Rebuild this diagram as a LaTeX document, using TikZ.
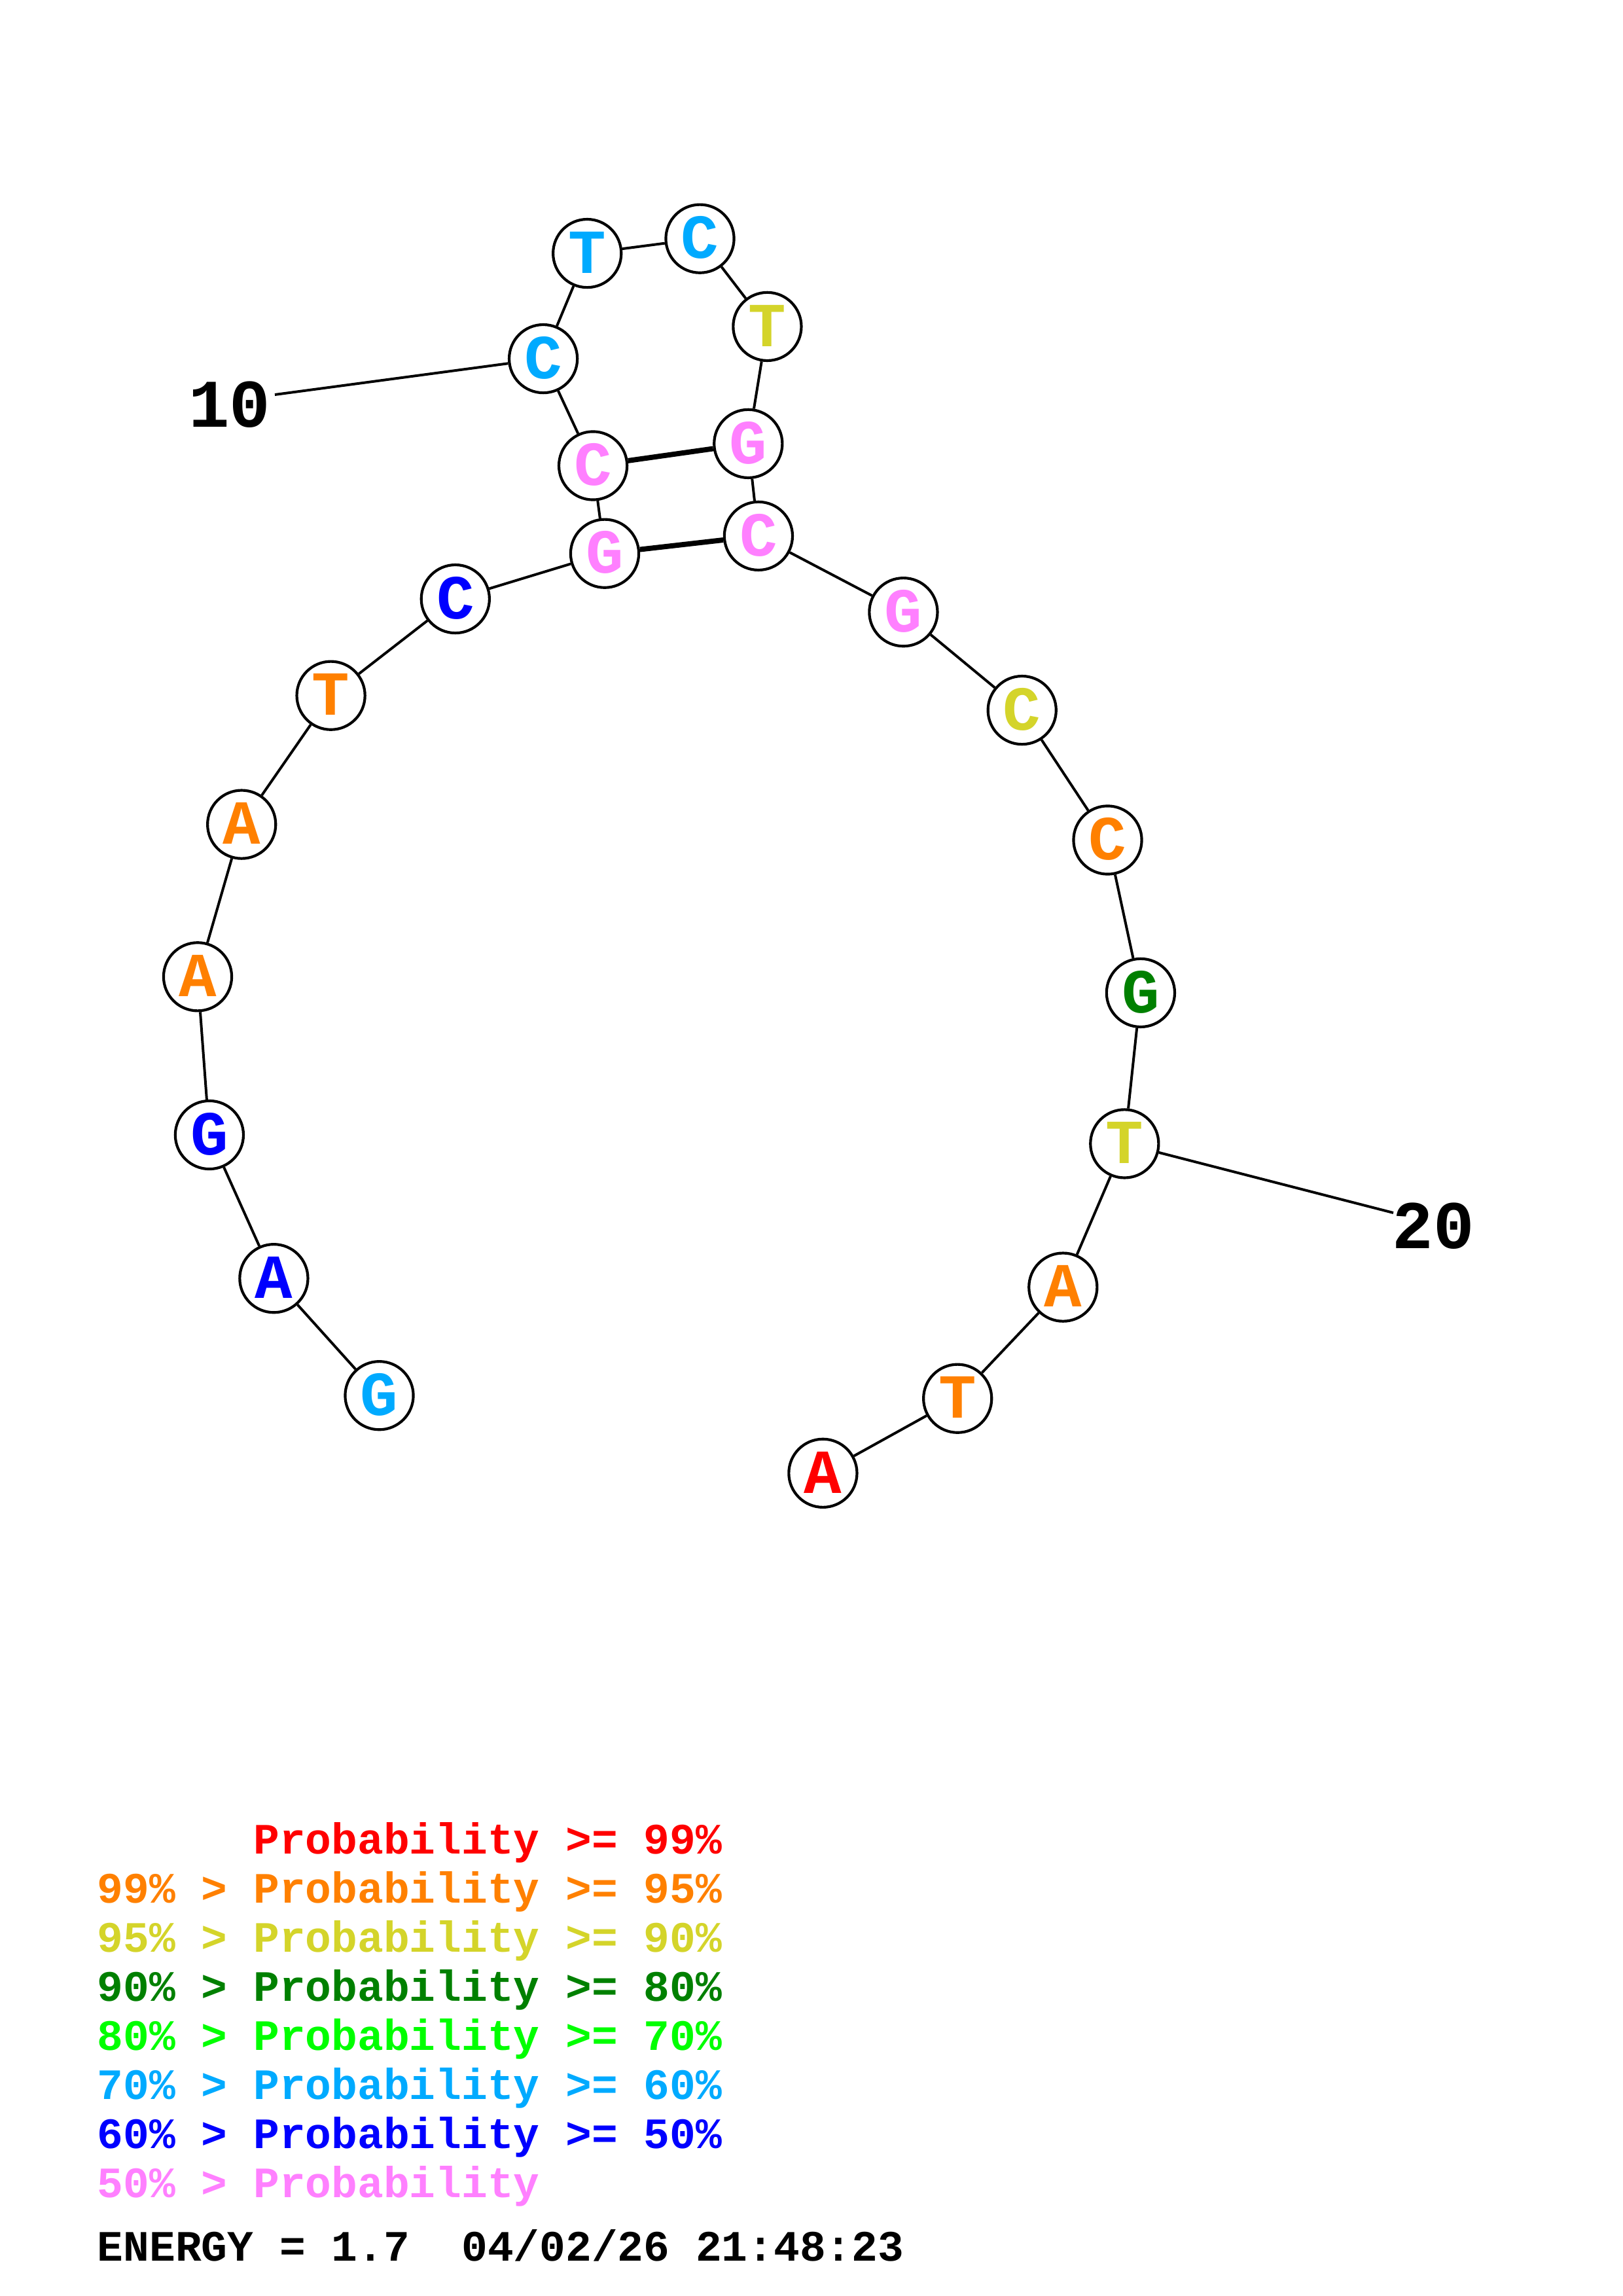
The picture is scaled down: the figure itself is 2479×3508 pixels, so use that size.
\documentclass[tikz,border=0pt]{standalone}
\usepackage{fontspec}
\setmonofont{Liberation Mono}
\definecolor{cred}{RGB}{255,0,0}
\definecolor{corange}{RGB}{255,128,0}
\definecolor{cyellow}{RGB}{212,212,42}
\definecolor{cdgreen}{RGB}{0,128,0}
\definecolor{cgreen}{RGB}{0,255,0}
\definecolor{csky}{RGB}{0,170,255}
\definecolor{cblue}{RGB}{0,0,255}
\definecolor{cpink}{RGB}{255,128,255}
\tikzset{
  base/.style={circle,draw=black,line width=1pt,fill=white,minimum size=25pt,inner sep=0pt,
    font=\ttfamily\bfseries\fontsize{23}{23}\selectfont,text height=14.5pt,text depth=0pt},
  bred/.style={base,text=cred},
  borange/.style={base,text=corange},
  byellow/.style={base,text=cyellow},
  bdgreen/.style={base,text=cdgreen},
  bsky/.style={base,text=csky},
  bblue/.style={base,text=cblue},
  bpink/.style={base,text=cpink},
  bb/.style={draw=black,line width=0.95pt},
  pairline/.style={draw=black,line width=1.9pt},
  numlabel/.style={font=\ttfamily\bfseries\fontsize{25}{25}\selectfont,inner sep=0pt},
  legend/.style={font=\ttfamily\bfseries\fontsize{15.9}{18}\selectfont,anchor=base west,inner sep=0pt}
}
\begin{document}
\begin{tikzpicture}[x=0.24pt,y=-0.24pt]
\useasboundingbox (0,0) rectangle (2479,3508);
% bases
\node[bsky]    (n1)  at (579.5,2132.2) {G};
\node[bblue]   (n2)  at (418.4,1953.2) {A};
\node[bblue]   (n3)  at (319.9,1734.0) {G};
\node[borange] (n4)  at (302.0,1492.3) {A};
\node[borange] (n5)  at (369.2,1259.6) {A};
\node[borange] (n6)  at (505.6,1062.7) {T};
\node[bblue]   (n7)  at (695.8,915.1)  {C};
\node[bpink]   (n8)  at (924.0,845.7)  {G};
\node[bpink]   (n9)  at (906.1,711.5)  {C};
\node[bsky]    (n10) at (830.1,548.1)  {C};
\node[bsky]    (n11) at (897.2,387.1)  {T};
\node[bsky]    (n12) at (1069.5,364.7) {C};
\node[byellow] (n13) at (1172.4,498.9) {T};
\node[bpink]   (n14) at (1143.3,677.9) {G};
\node[bpink]   (n15) at (1158.9,818.9) {C};
\node[bpink]   (n16) at (1380.4,935.2) {G};
\node[byellow] (n17) at (1561.7,1085.1) {C};
\node[borange] (n18) at (1692.5,1283.5) {C};
\node[bdgreen] (n19) at (1742.9,1516.9) {G};
\node[byellow] (n20) at (1718.3,1747.4) {T};
\node[borange] (n21) at (1624.3,1966.6) {A};
\node[borange] (n22) at (1463.2,2136.7) {T};
\node[bred]    (n23) at (1257.4,2250.8) {A};
% backbone
\foreach \a/\b in {1/2,2/3,3/4,4/5,5/6,6/7,7/8,8/9,9/10,10/11,11/12,12/13,13/14,14/15,15/16,16/17,17/18,18/19,19/20,20/21,21/22,22/23}
  \draw[bb] (n\a) -- (n\b);
% pairs
\draw[pairline] (n9) -- (n14);
\draw[pairline] (n8) -- (n15);
% numbering
\node[numlabel] (lab10) at (351,618) {10};
\coordinate (e10) at (420,603);
\draw[bb] (n10) -- (e10);
\node[numlabel] (lab20) at (2190,1873) {20};
\coordinate (e20) at (2129,1853);
\draw[bb] (n20) -- (e20);
% legend
\node[legend,text=cred]    (l1) at (148,2832) {\hphantom{99\% > }Probability >= 99\%};
\node[legend,text=corange] (l2) at (148,2907) {99\% > Probability >= 95\%};
\node[legend,text=cyellow] (l3) at (148,2982) {95\% > Probability >= 90\%};
\node[legend,text=cdgreen] (l4) at (148,3057) {90\% > Probability >= 80\%};
\node[legend,text=cgreen]  (l5) at (148,3132) {80\% > Probability >= 70\%};
\node[legend,text=csky]    (l6) at (148,3207) {70\% > Probability >= 60\%};
\node[legend,text=cblue]   (l7) at (148,3282) {60\% > Probability >= 50\%};
\node[legend,text=cpink]   (l8) at (148,3357) {50\% > Probability};
\node[legend,text=black]   (en) at (148,3454) {ENERGY = 1.7\ \ 04/02/26 21:48:23};
\end{tikzpicture}
\end{document}
